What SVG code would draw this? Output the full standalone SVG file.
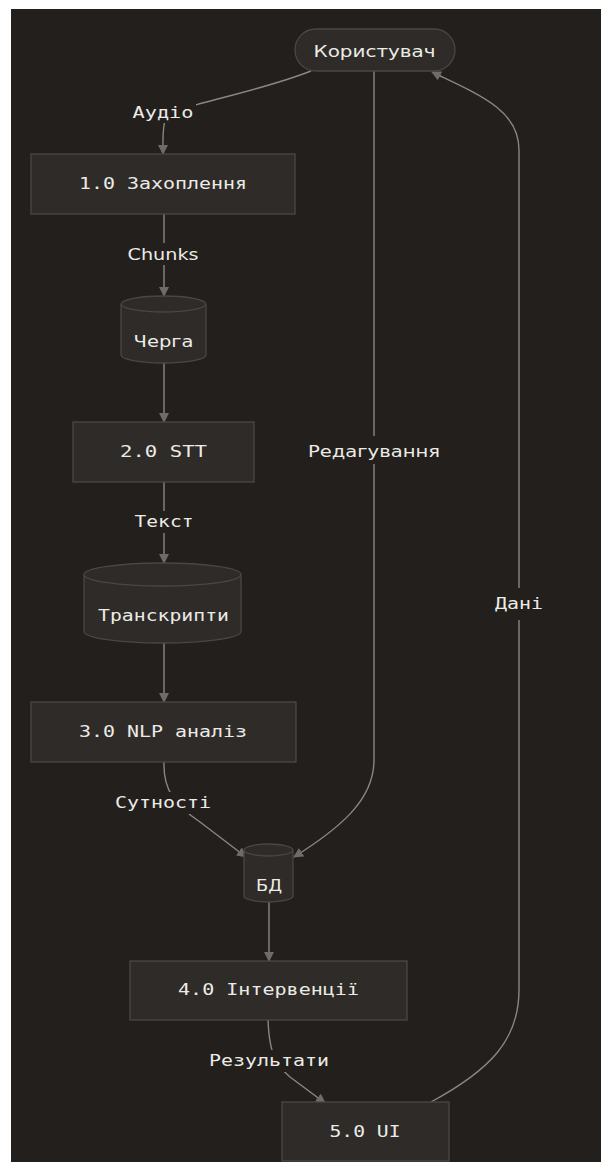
<svg xmlns="http://www.w3.org/2000/svg" width="601" height="1162" viewBox="0 0 601 1162">
<style>
.bg{fill:#221f1c}
.node{fill:#2e2b28;stroke:#4a4744;stroke-width:1.3}
.edge{fill:none;stroke:#8a8783;stroke-width:1.4}
.lbg{fill:#221f1c}
.t{fill:#ecebe6;font-family:"DejaVu Sans Mono","Liberation Mono",monospace;font-size:15px;text-anchor:middle}
.s{fill:#ecebe6;font-family:"DejaVu Sans","Open Sans",sans-serif;font-size:15px;text-anchor:middle}
</style>
<defs>
<marker id="arr" viewBox="0 0 10 10" refX="9" refY="5" markerUnits="userSpaceOnUse" markerWidth="10" markerHeight="11" orient="auto">
<path d="M0,0 L10,5 L0,10 z" fill="#6e6b68"/>
</marker>
</defs>
<rect x="0" y="0" width="601" height="1162" fill="#ffffff"/>
<rect class="bg" x="11" y="9" width="590" height="1153"/>

<g id="connectors">
<path class="edge" d="M311,71 C250,95 175,105 166,118 C162,126 163,140 163,154" marker-end="url(#arr)"/>
<path class="edge" d="M164,214 L164,296" marker-end="url(#arr)"/>
<path class="edge" d="M164,363 L164,422" marker-end="url(#arr)"/>
<path class="edge" d="M164,482 L164,563" marker-end="url(#arr)"/>
<path class="edge" d="M164,643 L164,702" marker-end="url(#arr)"/>
<path class="edge" d="M164,762 C163,790 175,805 200,822 L246,857" marker-end="url(#arr)"/>
<path class="edge" d="M374,71 L374,760 C374,800 340,828 294,857" marker-end="url(#arr)"/>
<path class="edge" d="M269,902 L269,961" marker-end="url(#arr)"/>
<path class="edge" d="M268,1020 C269,1045 272,1062 290,1077 L325,1103" marker-end="url(#arr)"/>
<path class="edge" d="M431,1102 C490,1070 519,1040 519,990 L519,150 C519,110 480,95 432,72" marker-end="url(#arr)"/>
<rect class="lbg" x="130" y="103" width="66" height="20"/>
<text class="t" x="163" y="118" textLength="61" lengthAdjust="spacingAndGlyphs">Аудіо</text>
<rect class="lbg" x="125" y="243" width="76" height="22"/>
<text class="s" x="163" y="260" textLength="71" lengthAdjust="spacingAndGlyphs">Chunks</text>
<rect class="lbg" x="302" y="436" width="144" height="28"/>
<text class="s" x="374" y="457" textLength="132" lengthAdjust="spacingAndGlyphs">Редагування</text>
<rect class="lbg" x="130" y="511" width="68" height="22"/>
<text class="t" x="164" y="527" textLength="59" lengthAdjust="spacingAndGlyphs">Текст</text>
<rect class="lbg" x="491" y="588" width="56" height="32"/>
<text class="t" x="519" y="609" textLength="48" lengthAdjust="spacingAndGlyphs">Дані</text>
<rect class="lbg" x="111" y="792" width="104" height="22"/>
<text class="t" x="163" y="808" textLength="96" lengthAdjust="spacingAndGlyphs">Сутності</text>
<rect class="lbg" x="205" y="1050" width="128" height="22"/>
<text class="t" x="269" y="1066" textLength="120" lengthAdjust="spacingAndGlyphs">Результати</text>
</g>

<g id="user">
<rect class="node" x="295" y="29" width="160" height="42" rx="21" ry="21"/>
<text class="s" x="374.5" y="57" font-size="16" textLength="122" lengthAdjust="spacingAndGlyphs">Користувач</text>
</g>
<g id="capture">
<rect class="node" x="31" y="154" width="264" height="60"/>
<text class="t" x="163" y="189" textLength="168" lengthAdjust="spacingAndGlyphs">1.0 Захоплення</text>
</g>
<g id="queue">
<path class="node" d="M121,304 A42.5,8 0 0 0 206,304 A42.5,8 0 0 0 121,304 L121,355 A42.5,8 0 0 0 206,355 L206,304"/>
<text class="s" x="163.5" y="346.5" textLength="60" lengthAdjust="spacingAndGlyphs">Черга</text>
</g>
<g id="stt">
<rect class="node" x="73" y="422" width="181" height="60"/>
<text class="t" x="163.5" y="456.5" textLength="87" lengthAdjust="spacingAndGlyphs">2.0 STT</text>
</g>
<g id="transcripts">
<path class="node" d="M84,574.5 A78.5,11.5 0 0 0 241,574.5 A78.5,11.5 0 0 0 84,574.5 L84,631.5 A78.5,11.5 0 0 0 241,631.5 L241,574.5"/>
<text class="t" x="163.5" y="620.5" textLength="131" lengthAdjust="spacingAndGlyphs">Транскрипти</text>
</g>
<g id="nlp">
<rect class="node" x="31" y="702" width="265" height="60"/>
<text class="t" x="163" y="737" textLength="168" lengthAdjust="spacingAndGlyphs">3.0 NLP аналіз</text>
</g>
<g id="db">
<path class="node" d="M244,850 A24.5,6 0 0 0 293,850 A24.5,6 0 0 0 244,850 L244,896 A24.5,6 0 0 0 293,896 L293,850"/>
<text class="s" x="269" y="891" textLength="26" lengthAdjust="spacingAndGlyphs">БД</text>
</g>
<g id="interventions">
<rect class="node" x="130" y="961" width="277" height="59"/>
<text class="t" x="268.5" y="995" textLength="181" lengthAdjust="spacingAndGlyphs">4.0 Інтервенції</text>
</g>
<g id="ui">
<rect class="node" x="282" y="1102" width="167" height="59"/>
<text class="t" x="365" y="1137" textLength="71" lengthAdjust="spacingAndGlyphs">5.0 UI</text>
</g>
</svg>
